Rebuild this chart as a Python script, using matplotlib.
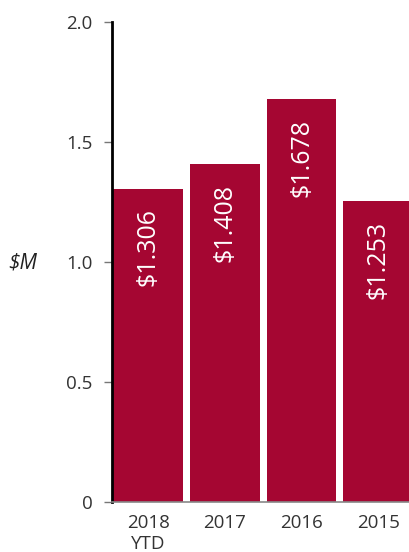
import matplotlib
matplotlib.use("Agg")
import matplotlib.pyplot as plt

years = ["2018\nYTD", "2017", "2016", "2015"]
savings = [1.306, 1.408, 1.678, 1.253]
labels = ["$1.306", "$1.408", "$1.678", "$1.253"]
yticks = [0, 0.5, 1.0, 1.5, 2.0]
ytick_labels = ["0", "0.5", "1.0", "1.5", "2.0"]

plt.rcParams['font.family'] = ['Open Sans', 'DejaVu Sans']

fig = plt.figure(figsize=(4.09, 5.52), dpi=100)
ax = fig.add_axes([0.274, 0.0906, 0.726, 0.8694])

x = range(len(years))
ax.bar(x, savings, width=0.91, color='#A50632')
for i, (v, lab) in enumerate(zip(savings, labels)):
    ax.annotate(lab, (i, v), xytext=(0, -14), textcoords='offset points',
                rotation=90, ha='center', va='top', color='white', fontsize=18)

ax.set_xlim(-0.47, 3.40)
ax.set_ylim(0, 2.0)
ax.set_xticks(list(x))
ax.set_xticklabels(years, fontsize=13.5, color='#333333', linespacing=1.2)
ax.set_yticks(yticks)
ax.set_yticklabels(ytick_labels, fontsize=13.5, color='#333333')
ax.tick_params(axis='y', length=6, width=1, color='#777777', pad=8)
ax.tick_params(axis='x', length=0, pad=9)

ax.spines['top'].set_visible(False)
ax.spines['right'].set_visible(False)
ax.spines['left'].set_linewidth(2)
ax.spines['left'].set_color('black')
ax.spines['bottom'].set_color('#888888')
ax.spines['bottom'].set_linewidth(1.2)

fig.text(0.056, 0.523, "$M", fontsize=15, style='italic', color='#222222',
         ha='center', va='center')

fig.savefig("out.png", dpi=100)
